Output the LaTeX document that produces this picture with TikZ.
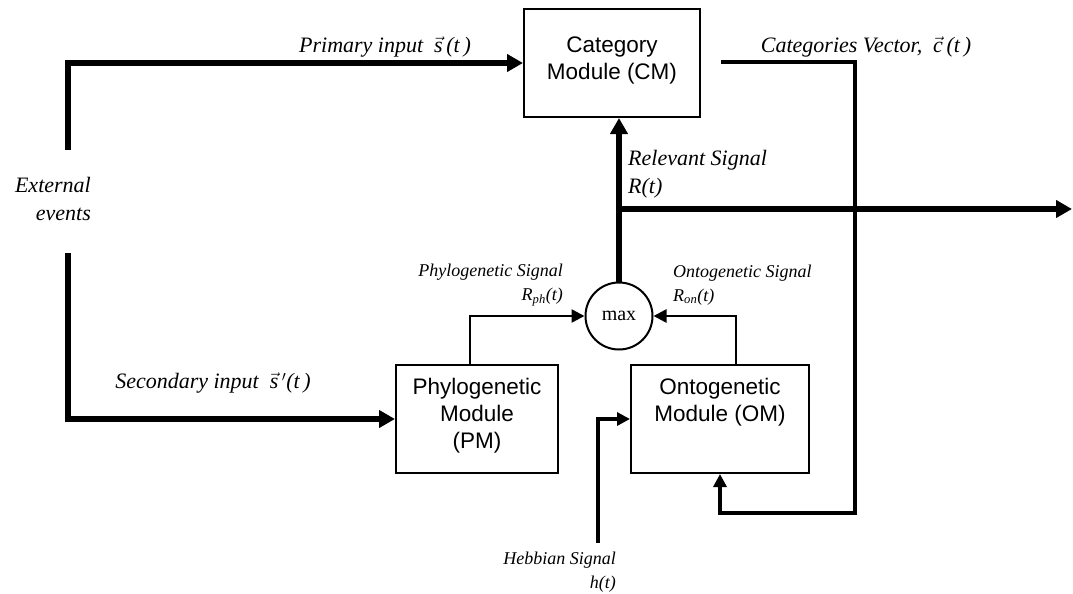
\documentclass[tikz,border=0pt]{standalone}
\usepackage{fontspec}
\setmainfont{Liberation Serif}
\newfontfamily\arialfont{Liberation Sans}
\usetikzlibrary{arrows.meta,calc}
\begin{document}
\begin{tikzpicture}[x=1pt,y=-1pt,
  bigline/.style={line width=5.5pt},
  midline/.style={line width=4pt},
  thinline/.style={line width=2.5pt},
  arr/.style={-{Triangle[length=16pt,width=17pt]}},
  sarr/.style={-{Triangle[length=13pt,width=13pt]}},
  boxnode/.style={draw,line width=2pt,inner sep=0pt,minimum height=108pt},
  lbl/.style={font=\fontsize{22}{28}\selectfont\itshape,inner sep=0pt},
  slbl/.style={font=\fontsize{18}{24}\selectfont\itshape,inner sep=0pt},
  btxt/.style={font=\arialfont\fontsize{22.5}{27}\selectfont,align=center,inner sep=0pt}]
\useasboundingbox (0,0) rectangle (1073,594);

% boxes
\node[boxnode,minimum width=176pt] (cm) at (612,63) {};
\node[boxnode,minimum width=162pt] (pm) at (477,419) {};
\node[boxnode,minimum width=178pt] (om) at (720,419) {};
\node[draw,circle,line width=2pt,minimum size=67pt,inner sep=0pt,
      font=\fontsize{20}{24}\selectfont] (mx) at (619,316) {max};

% box texts
\node[btxt] (cmt) at (612,60) {Category\\Module (CM)};
\node[btxt] (pmt) at (477,416) {Phylogenetic\\Module\\(PM)};
\node[btxt] (omt) at (720,402) {Ontogenetic\\Module (OM)};

% free ends
\coordinate (ext1) at (68,150);
\coordinate (ext2) at (68,253);
\coordinate (hb) at (598,543);
\coordinate (cv) at (721,62);
\coordinate (br) at (619,209);
\coordinate (out) at (1072,209);

% connectors
\draw[bigline,arr] (ext1) |- (cm.west);
\draw[bigline,arr] (ext2) |- (pm.west);
\draw[midline,sarr] (hb) |- (om.west);
\draw[midline,sarr] (cv) -- (855,62) -- (855,513) -| (om.south);
\draw[bigline,arr] (mx.north) -- (mx.north |- cm.south);
\draw[bigline,arr] (br) -- (out);
\draw[thinline,sarr] ($(pm.north)+(-7,0)$) |- (mx.west);
\draw[thinline,sarr] ($(om.north)+(16,0)$) |- (mx.east);

% labels
\node[lbl] (lp) at (385,47) {Primary input \ $\vec{\hbox{\itshape s}}$\,(\textit{t}\,)};
\node[lbl] (lc) at (866,47) {Categories Vector, \ $\vec{\hbox{\itshape c}}$\,(\textit{t}\,)};
\node[lbl,align=right,anchor=east] (le) at (91,199) {External\\events};
\node[lbl,align=left,anchor=west] (lr) at (628,174) {Relevant Signal\\R(t)};
\node[lbl] (ls) at (213,383) {Secondary input \ $\vec{\hbox{\itshape s}}\,'$(\textit{t}\,)};
\node[slbl,align=right,anchor=east] (lph) at (563,285) {Phylogenetic Signal\\R\textsubscript{ph}(t)};
\node[slbl,align=left,anchor=west] (lon) at (673,285) {Ontogenetic Signal\\R\textsubscript{on}(t)};
\node[slbl,align=right,anchor=east] (lh) at (616,572) {Hebbian Signal\\h(t)};
\end{tikzpicture}
\end{document}
